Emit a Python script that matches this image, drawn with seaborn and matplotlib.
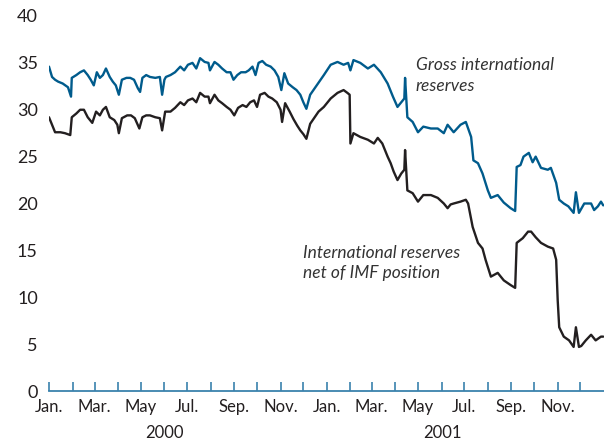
import pandas as pd
import matplotlib.pyplot as plt
import matplotlib.dates as mdates
import matplotlib.transforms as mtransforms
import seaborn as sns

# days counted from 1 Jan 2000, values in billions of US dollars
start = pd.Timestamp("2000-01-01")

gross_day = [0, 4, 8, 12, 18, 25, 29, 30, 36, 41, 46, 51, 55, 59, 63, 67, 71, 75, 80, 84,
             88, 92, 96, 102, 107, 112, 117, 120, 123, 128, 133, 140, 146, 149, 152, 154, 160, 166, 173, 178,
             183, 189, 194, 199, 205, 210, 212, 218, 223, 228, 234, 239, 243, 248, 253, 259, 263, 268, 272, 276,
             281, 286, 292, 297, 302, 306, 310, 315, 321, 326, 331, 335, 339, 344, 350, 355, 362, 371, 380, 388,
             394, 397, 401, 410, 420, 428, 437, 446, 453, 459, 466, 468, 469, 472, 479, 486, 493, 503, 512, 520,
             525, 533, 542, 549, 556, 559, 565, 571, 578, 582, 591, 599, 608, 614, 616, 621, 625, 632, 637, 641,
             648, 657, 661, 668, 672, 678, 684, 691, 694, 698, 705, 710, 714, 718, 723, 727, 730]
gross_val = [34.6, 33.5, 33.2, 33.0, 32.8, 32.4, 31.4, 33.4, 33.7, 34.0, 34.2, 33.7, 33.2, 32.6, 34.0, 33.4, 33.7, 34.4, 33.5, 33.0,
             32.6, 31.6, 33.2, 33.4, 33.4, 33.2, 32.3, 31.9, 33.4, 33.7, 33.5, 33.4, 33.5, 31.6, 33.2, 33.5, 33.7, 34.0, 34.6, 34.2,
             34.8, 35.0, 34.4, 35.5, 35.1, 35.0, 34.2, 35.1, 34.8, 34.4, 34.0, 34.0, 33.2, 33.7, 34.0, 34.0, 34.2, 34.6, 33.7, 35.0,
             35.2, 34.8, 34.6, 34.2, 33.5, 32.1, 33.9, 32.8, 32.4, 32.1, 31.6, 30.8, 30.1, 31.6, 32.3, 32.9, 33.7, 34.8, 35.1, 34.8,
             35.0, 34.2, 35.3, 35.0, 34.4, 34.8, 34.0, 32.8, 31.4, 30.3, 31.0, 31.2, 33.4, 29.2, 28.7, 27.6, 28.2, 28.0, 28.0, 27.5,
             28.4, 27.6, 28.4, 28.7, 27.1, 24.6, 24.3, 23.2, 21.4, 20.6, 20.9, 20.1, 19.5, 19.2, 23.9, 24.1, 25.0, 25.4, 24.4, 25.0,
             23.8, 23.6, 23.8, 22.2, 20.4, 20.0, 19.7, 19.0, 21.2, 19.0, 20.0, 20.0, 20.0, 19.3, 19.7, 20.2, 19.8]

net_day = [0, 4, 8, 15, 21, 28, 30, 36, 41, 46, 51, 57, 62, 67, 71, 75, 80, 86, 90, 92,
           96, 103, 108, 113, 119, 123, 128, 133, 140, 146, 149, 153, 160, 166, 173, 178, 183, 189, 194, 199,
           205, 210, 212, 218, 223, 228, 234, 239, 244, 249, 255, 260, 265, 270, 274, 278, 284, 289, 294, 300,
           305, 307, 311, 317, 322, 327, 331, 335, 339, 344, 350, 355, 362, 371, 380, 388, 393, 396, 397, 401,
           410, 420, 428, 433, 439, 446, 450, 454, 459, 464, 468, 469, 472, 479, 486, 493, 503, 512, 520, 525,
           529, 533, 542, 549, 552, 558, 565, 571, 575, 582, 591, 599, 608, 614, 616, 624, 631, 635, 641, 648,
           657, 664, 668, 670, 672, 678, 685, 691, 694, 698, 701, 707, 714, 720, 727, 730]
net_val = [29.2, 28.4, 27.6, 27.6, 27.5, 27.3, 29.2, 29.6, 30.0, 30.0, 29.2, 28.6, 29.8, 29.4, 30.0, 30.3, 29.2, 28.9, 28.4, 27.5,
           29.1, 29.4, 29.4, 29.1, 28.0, 29.2, 29.4, 29.4, 29.2, 29.1, 27.8, 29.8, 29.8, 30.2, 30.8, 30.5, 31.0, 31.2, 30.8, 31.8,
           31.4, 31.4, 30.7, 31.6, 31.0, 30.7, 30.3, 30.0, 29.4, 30.2, 30.5, 30.3, 30.8, 31.0, 30.3, 31.6, 31.8, 31.4, 31.2, 30.8,
           30.0, 28.7, 30.7, 29.8, 29.0, 28.3, 27.8, 27.4, 26.9, 28.5, 29.2, 29.8, 30.3, 31.2, 31.8, 32.1, 31.8, 31.6, 26.4, 27.5,
           27.1, 26.8, 26.4, 27.0, 26.4, 25.0, 24.3, 23.4, 22.5, 23.2, 23.6, 25.7, 21.4, 21.1, 20.2, 20.9, 20.9, 20.6, 20.0, 19.5,
           19.9, 20.0, 20.2, 20.4, 20.0, 17.5, 15.8, 15.2, 14.0, 12.2, 12.6, 11.8, 11.3, 11.0, 15.8, 16.3, 17.0, 17.0, 16.4, 15.8,
           15.4, 15.2, 14.0, 9.7, 6.8, 5.8, 5.4, 4.7, 6.8, 4.7, 4.8, 5.4, 6.0, 5.4, 5.8, 5.8]

month_labels = ["Jan.", "", "Mar.", "", "May", "", "Jul.", "", "Sep.", "", "Nov.", ""] * 2
years = ["2000", "2001"]

BLUE = "#005b8c"
TICK_BLUE = "#3a82ad"
TEXT = "#231f20"

df = pd.concat([
    pd.DataFrame({"date": start + pd.to_timedelta(gross_day, unit="D"), "value": gross_val,
                  "series": "Gross international reserves"}),
    pd.DataFrame({"date": start + pd.to_timedelta(net_day, unit="D"), "value": net_val,
                  "series": "International reserves net of IMF position"}),
])

sns.set_style("white")
plt.rcParams["font.family"] = ["Lato", "DejaVu Sans"]

fig = plt.figure(figsize=(6.04, 4.44), dpi=100)
ax = fig.add_axes([49 / 604, 1 - 391 / 444, 555 / 604, 375 / 444])

sns.lineplot(data=df, x="date", y="value", hue="series", estimator=None, sort=False,
             palette=[BLUE, TEXT], linewidth=1.7, legend=False, ax=ax)

ax.set_xlim(pd.Timestamp("2000-01-01"), pd.Timestamp("2002-01-01"))
ax.set_ylim(0, 40)
ax.set_xlabel("")
ax.set_ylabel("")

for side in ["left", "right", "top"]:
    ax.spines[side].set_visible(False)
ax.spines["bottom"].set_color(TICK_BLUE)
ax.spines["bottom"].set_linewidth(1.3)

ax.set_yticks(range(0, 41, 5))
ax.tick_params(axis="y", direction="in", length=9.5, width=1.2, color=TICK_BLUE,
               pad=8, labelsize=13, labelcolor=TEXT)

months = pd.date_range("2000-01-01", "2001-12-01", freq="MS")
ax.set_xticks(months)
ax.set_xticklabels(month_labels)
ax.tick_params(axis="x", direction="in", length=6.5, width=1.2, color=TICK_BLUE,
               pad=6, labelsize=12, labelcolor=TEXT, bottom=True)

trans = mtransforms.blended_transform_factory(ax.transData, ax.transAxes)
for yr in years:
    mid = pd.Timestamp(f"{yr}-01-01") + (pd.Timestamp(f"{yr}-11-01") - pd.Timestamp(f"{yr}-01-01")) / 2
    ax.text(mdates.date2num(mid), -0.112, yr, transform=trans, ha="center", va="center",
            fontsize=12, color=TEXT)

ax.text(pd.Timestamp("2001-04-28"), 35.6, "Gross international\nreserves", ha="left", va="top",
        fontsize=12.5, style="italic", color="#333333", linespacing=1.35)
ax.text(pd.Timestamp("2000-12-01"), 15.6, "International reserves\nnet of IMF position", ha="left", va="top",
        fontsize=12.5, style="italic", color="#333333", linespacing=1.35)

fig.savefig("out.png", dpi=100)
plt.close(fig)
